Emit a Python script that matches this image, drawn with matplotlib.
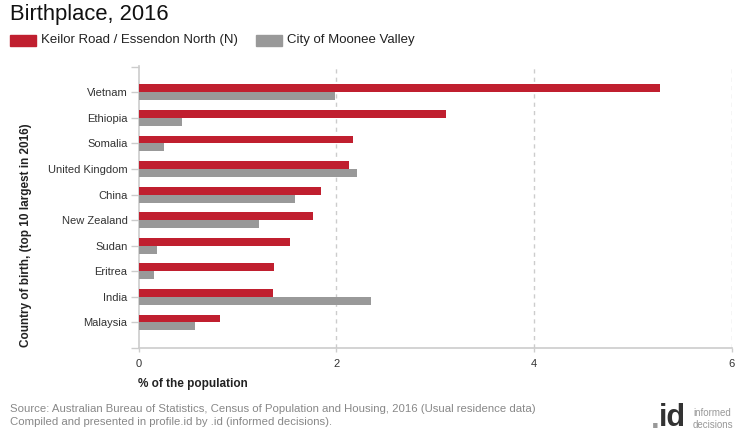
import matplotlib
matplotlib.use("Agg")
import matplotlib.pyplot as plt
import numpy as np

plt.rcParams["font.family"] = ["Liberation Sans", "DejaVu Sans"]

# data -----------------------------------------------------------------------
countries = ["Vietnam", "Ethiopia", "Somalia", "United Kingdom", "China",
             "New Zealand", "Sudan", "Eritrea", "India", "Malaysia"]
keilor = [5.28, 3.11, 2.17, 2.13, 1.85, 1.77, 1.53, 1.37, 1.36, 0.82]
moonee = [1.99, 0.44, 0.26, 2.21, 1.58, 1.22, 0.19, 0.16, 2.35, 0.57]
series_names = ["Keilor Road / Essendon North (N)", "City of Moonee Valley"]
xticks = [0, 2, 4, 6]

red = "#C01F2F"
grey = "#999999"
line_col = "#CCCCCC"

# plot -----------------------------------------------------------------------
fig = plt.figure(figsize=(7.4, 4.4), dpi=100)
ax = fig.add_axes([138.5 / 740, 92 / 440, 593 / 740, 282 / 440])

y = np.arange(len(countries))
h = 0.31
ax.barh(y - h / 2, keilor, height=h, color=red, zorder=3)
ax.barh(y + h / 2, moonee, height=h, color=grey, zorder=3)

ax.set_xlim(0, 6)
ax.set_ylim(10, -1.03)
ax.set_xticks(xticks)
ax.set_xticklabels([str(t) for t in xticks])
ax.set_yticks(list(range(-1, 11)))
ax.set_yticklabels([""] + countries + [""])

for s in ["top", "right"]:
    ax.spines[s].set_visible(False)
for s in ["left", "bottom"]:
    ax.spines[s].set_color(line_col)
    ax.spines[s].set_linewidth(1.2)

ax.tick_params(axis="y", length=6, width=1, color=line_col, labelsize=8,
               labelcolor="#333333", pad=2)
ax.tick_params(axis="x", length=3, width=1, color=line_col, labelsize=8,
               labelcolor="#333333", pad=5)
for t in ax.yaxis.get_ticklines():
    t.set_linestyle((0, (2, 2)))

for xv in xticks[1:]:
    ax.axvline(xv, color=line_col, lw=1, ls=(0, (3, 3)), zorder=1)

ax.set_ylabel("Country of birth, (top 10 largest in 2016)", fontsize=8.5,
              fontweight="bold", color="#222222")
ax.yaxis.set_label_coords(-106 / 593, 0.4)
ax.set_xlabel("% of the population", fontsize=8.5, fontweight="bold",
              color="#222222", loc="left")
ax.xaxis.set_label_coords(0.0, -0.108)

# title and legend -----------------------------------------------------------
fig.text(10 / 740, 1 - 14.5 / 440, "Birthplace, 2016", fontsize=15.8,
         va="center", ha="left", color="#111111")
fig.patches.append(plt.Rectangle((10 / 740, 1 - 46 / 440), 26 / 740, 11 / 440,
                                 transform=fig.transFigure, color=red))
fig.text(41 / 740, 1 - 40.5 / 440, series_names[0], fontsize=9.5,
         va="center", ha="left", color="#222222")
fig.patches.append(plt.Rectangle((256 / 740, 1 - 46 / 440), 26 / 740, 11 / 440,
                                 transform=fig.transFigure, color=grey))
fig.text(287 / 740, 1 - 40.5 / 440, series_names[1], fontsize=9.5,
         va="center", ha="left", color="#222222")

# footer ---------------------------------------------------------------------
fig.text(10 / 740, 1 - 408.5 / 440,
         "Source: Australian Bureau of Statistics, Census of Population and Housing, 2016 (Usual residence data)",
         fontsize=8.2, color="#888888", va="center", ha="left")
fig.text(10 / 740, 1 - 421.5 / 440,
         "Compiled and presented in profile.id by .id (informed decisions).",
         fontsize=8.2, color="#888888", va="center", ha="left")
fig.text(651 / 740, 1 - 420 / 440, ".", fontsize=22, fontweight="bold",
         color="#999999", va="center", ha="left")
fig.text(659 / 740, 1 - 418 / 440, "id", fontsize=22, fontweight="bold",
         color="#333333", va="center", ha="left")
fig.text(693 / 740, 1 - 413 / 440, "informed", fontsize=7, color="#999999",
         va="center", ha="left")
fig.text(693 / 740, 1 - 425 / 440, "decisions", fontsize=7, color="#999999",
         va="center", ha="left")

fig.savefig("out.png", dpi=100)
